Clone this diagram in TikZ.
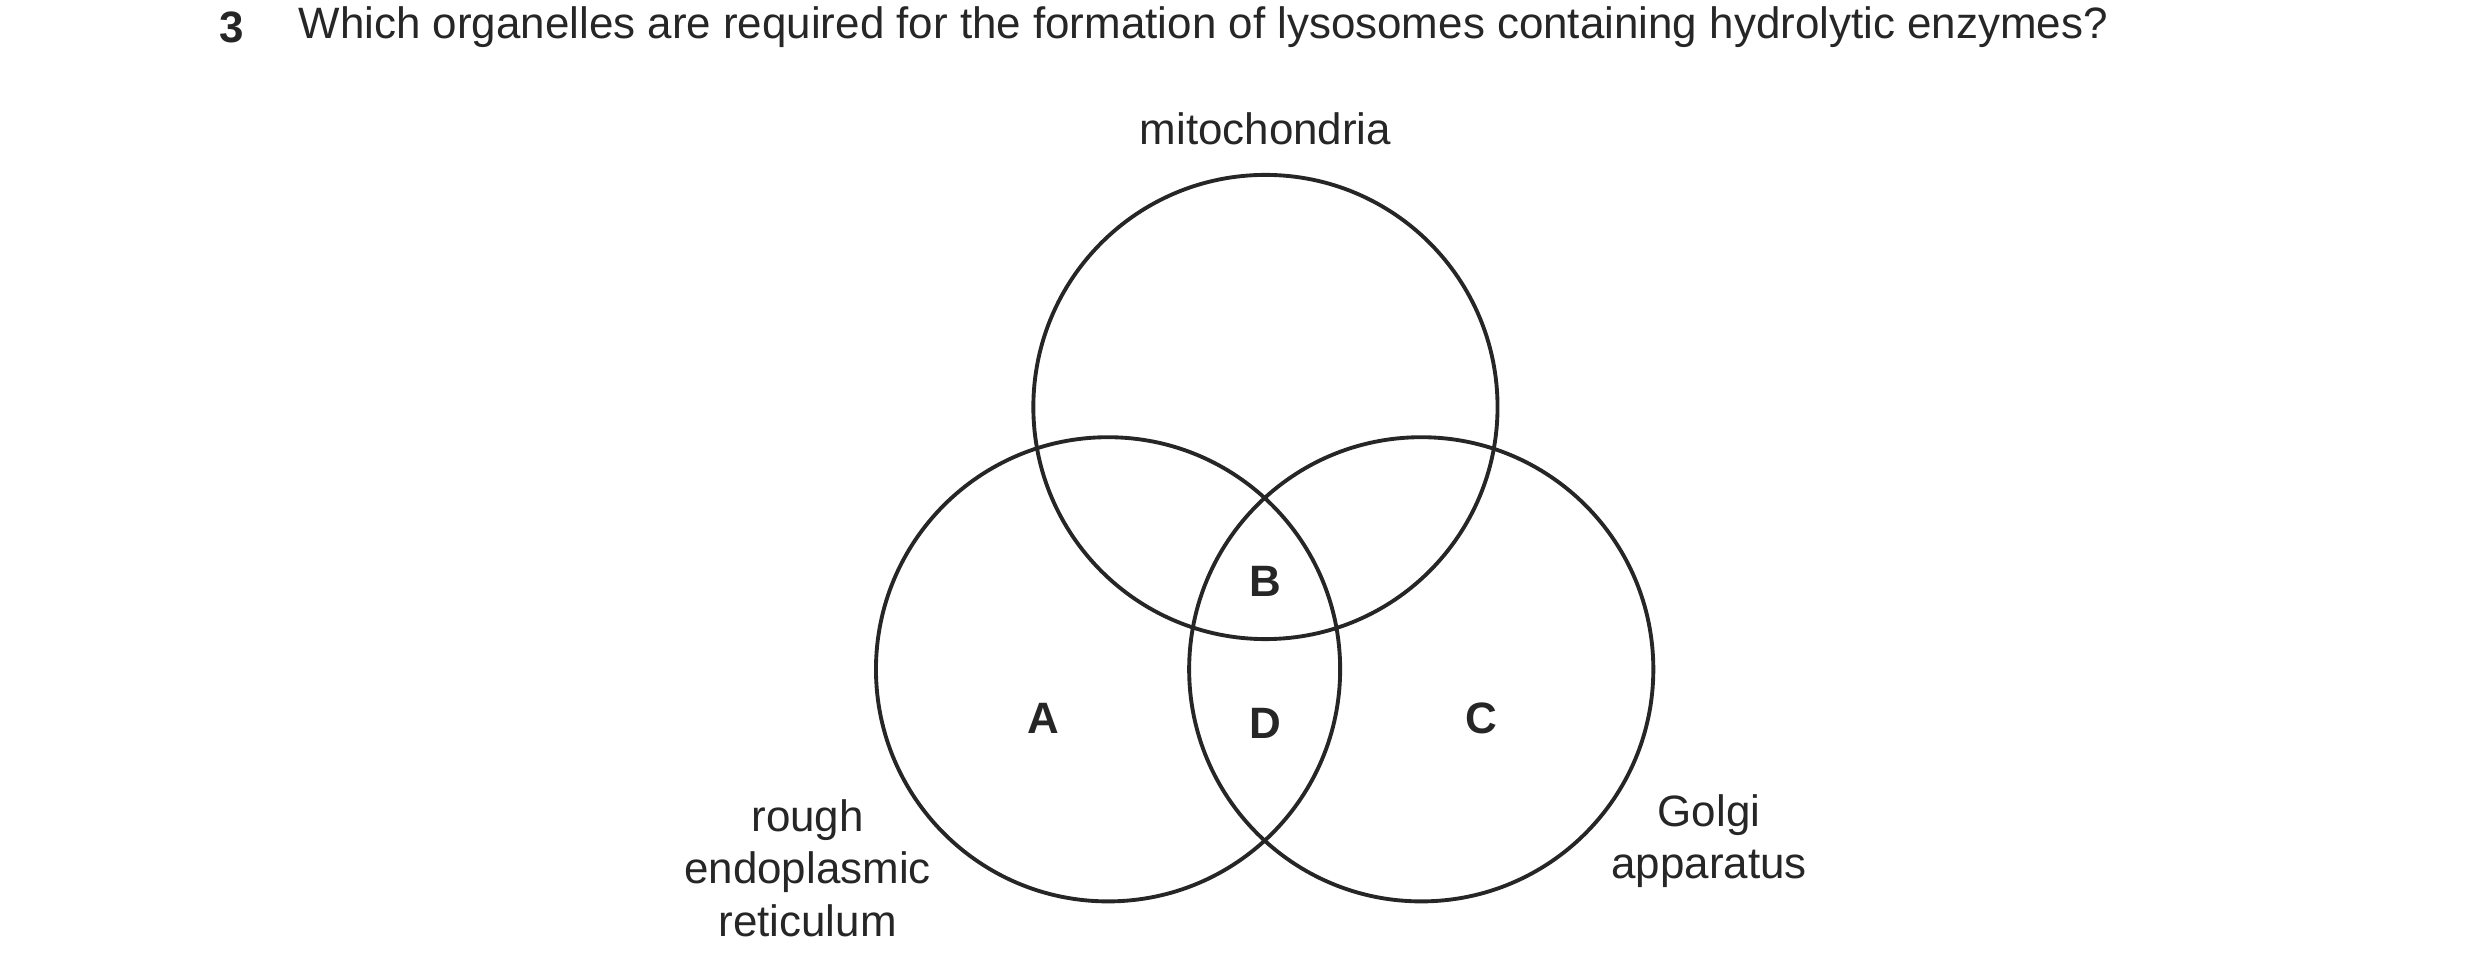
\documentclass[tikz,border=0pt]{standalone}
\usepackage{fontspec}
\setmainfont{Liberation Sans}
\begin{document}
\begin{tikzpicture}[x=0.0159cm,y=-0.0159cm,
  ring/.style={draw=black!85,line width=1.1pt},
  lab/.style={font=\fontsize{12.5}{15}\selectfont,align=center,text=black!85},
  letter/.style={font=\fontsize{12.5}{15}\selectfont\bfseries,text=black!85}]
  \useasboundingbox (0,0) rectangle (1560,612.7);
  \node[lab,anchor=west] (num) at (130,17) {\textbf{3}};
  \node[lab,anchor=west] (question) at (180,17) {Which organelles are required for the formation of lysosomes containing hydrolytic enzymes?};
  % circles
  \foreach \cx/\cy/\nm in {796/256/mito,697/421/rer,894/421/golgi}{%
    \draw[ring] (\cx,\cy) circle [radius=146];
    \coordinate (\nm) at (\cx,\cy);
  }
  \node[lab] (mitolab) at (796,81) {mitochondria};
  \node[lab] (rerlab) at (508,546) {rough\\endoplasmic\\reticulum};
  \node[lab] (golgilab) at (1075,529) {Golgi\\apparatus};
  \node[letter] (A) at (656,452) {A};
  \node[letter] (B) at (796,366) {B};
  \node[letter] (C) at (932,452) {C};
  \node[letter] (D) at (796,455) {D};
\end{tikzpicture}
\end{document}
